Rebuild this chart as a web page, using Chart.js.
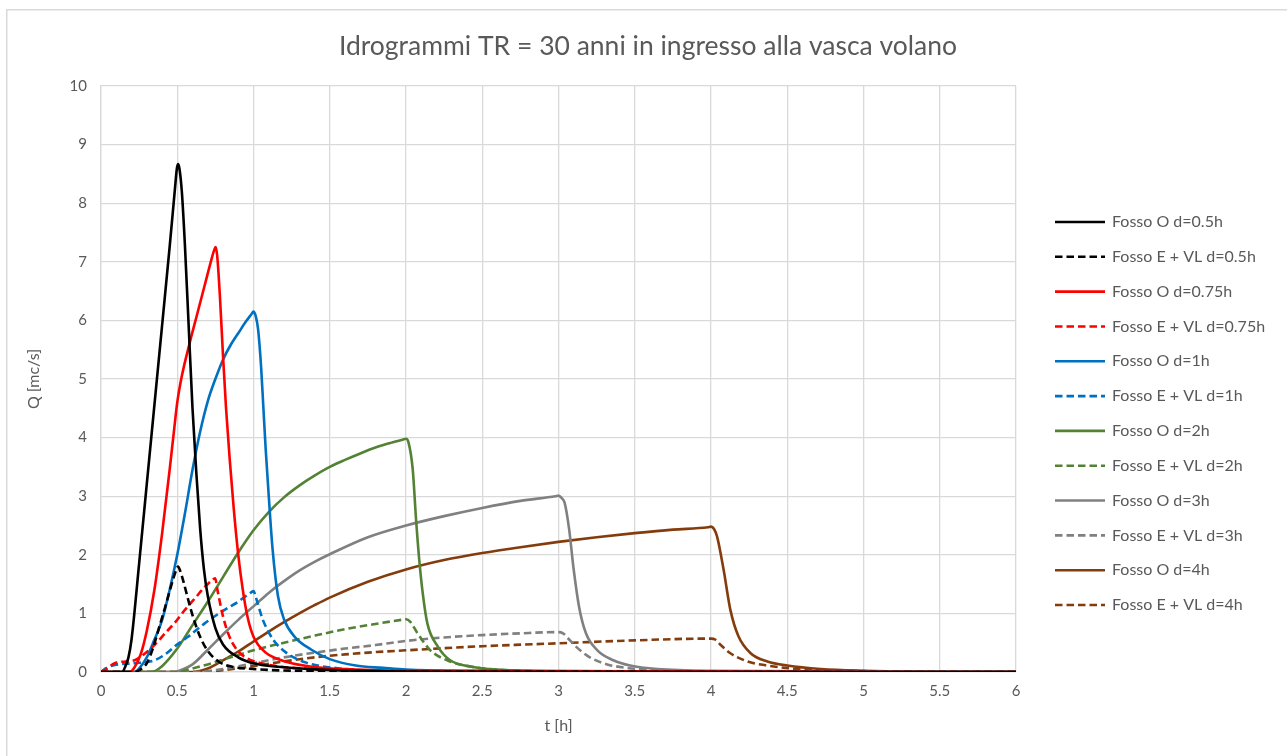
<!DOCTYPE html>
<html>
<head>
<meta charset="utf-8">
<script src="https://cdn.jsdelivr.net/npm/chart.js@4.4.1/dist/chart.umd.min.js"></script>
<style>
  body { margin: 0; background: #fff; }
  #wrap { width: 1287px; height: 756px; }
</style>
</head>
<body>
<div id="wrap"><canvas id="c" width="1287" height="756"></canvas></div>
<script>
// tempi [h] e portate [mc/s]
var tO05 = [0, 0.14, 0.16, 0.18, 0.2, 0.25, 0.3, 0.35, 0.4, 0.45, 0.485, 0.498, 0.506, 0.515, 0.53, 0.55, 0.575, 0.6, 0.625, 0.65, 0.675, 0.7, 0.75, 0.8, 0.9, 1.0, 1.2, 1.4, 1.7, 2.2, 6];
var qO05 = [0, 0, 0.1, 0.25, 0.55, 1.85, 3.2, 4.55, 5.9, 7.25, 8.25, 8.6, 8.67, 8.58, 8.2, 7.3, 5.9, 4.5, 3.4, 2.45, 1.75, 1.3, 0.75, 0.47, 0.25, 0.15, 0.08, 0.045, 0.02, 0.005, 0];

var tE05 = [0, 0.22, 0.25, 0.3, 0.34, 0.38, 0.42, 0.46, 0.49, 0.505, 0.52, 0.54, 0.57, 0.6, 0.65, 0.7, 0.77, 0.86, 1.0, 1.3, 2, 6];
var qE05 = [0, 0, 0.03, 0.15, 0.4, 0.75, 1.1, 1.47, 1.72, 1.8, 1.72, 1.55, 1.25, 0.97, 0.6, 0.36, 0.18, 0.09, 0.05, 0.02, 0.005, 0];

var tO075 = [0, 0.19, 0.22, 0.26, 0.3, 0.35, 0.4, 0.45, 0.48, 0.5, 0.53, 0.58, 0.63, 0.68, 0.72, 0.742, 0.752, 0.762, 0.78, 0.8, 0.82, 0.845, 0.87, 0.9, 0.93, 0.96, 1.0, 1.08, 1.15, 1.25, 1.45, 1.65, 2, 6];
var qO075 = [0, 0, 0.08, 0.3, 0.7, 1.4, 2.35, 3.45, 4.15, 4.6, 5.05, 5.6, 6.1, 6.6, 7.0, 7.2, 7.25, 7.1, 6.4, 5.4, 4.5, 3.6, 2.8, 2.0, 1.4, 0.95, 0.6, 0.33, 0.23, 0.15, 0.07, 0.045, 0.02, 0];

var tE075 = [0, 0.03, 0.09, 0.16, 0.22, 0.29, 0.35, 0.42, 0.49, 0.55, 0.62, 0.68, 0.73, 0.748, 0.765, 0.8, 0.835, 0.88, 0.94, 1.05, 1.18, 1.5, 2, 6];
var qE075 = [0, 0.04, 0.15, 0.18, 0.2, 0.32, 0.46, 0.66, 0.86, 1.06, 1.27, 1.45, 1.57, 1.6, 1.38, 0.95, 0.65, 0.42, 0.26, 0.15, 0.09, 0.04, 0.01, 0];

var tO1 = [0, 0.22, 0.25, 0.3, 0.35, 0.4, 0.45, 0.5, 0.55, 0.6, 0.65, 0.7, 0.75, 0.8, 0.85, 0.9, 0.95, 0.985, 1.0, 1.015, 1.03, 1.05, 1.065, 1.08, 1.1, 1.125, 1.16, 1.2, 1.27, 1.38, 1.5, 1.67, 1.85, 2.0, 2.3, 6];
var qO1 = [0, 0, 0.06, 0.25, 0.55, 0.88, 1.4, 2.0, 2.7, 3.45, 4.1, 4.62, 5.0, 5.33, 5.58, 5.78, 5.98, 6.1, 6.15, 6.07, 5.85, 5.2, 4.5, 3.8, 3.0, 2.1, 1.3, 0.9, 0.6, 0.38, 0.22, 0.11, 0.07, 0.04, 0.02, 0];

var tE1 = [0, 0.03, 0.09, 0.22, 0.35, 0.42, 0.49, 0.57, 0.68, 0.81, 0.9, 0.985, 1.0, 1.017, 1.06, 1.127, 1.214, 1.346, 1.565, 1.9, 6];
var qE1 = [0, 0.06, 0.12, 0.15, 0.2, 0.3, 0.45, 0.6, 0.83, 1.06, 1.2, 1.36, 1.38, 1.26, 0.9, 0.56, 0.33, 0.16, 0.06, 0.02, 0];

var tO2 = [0, 0.33, 0.4, 0.5, 0.6, 0.7, 0.8, 0.9, 1.0, 1.1, 1.2, 1.3, 1.4, 1.5, 1.6, 1.7, 1.8, 1.9, 1.985, 2.0, 2.015, 2.044, 2.066, 2.087, 2.11, 2.14, 2.21, 2.29, 2.43, 2.6, 3.0, 6];
var qO2 = [0, 0, 0.1, 0.4, 0.8, 1.2, 1.62, 2.04, 2.42, 2.73, 2.98, 3.18, 3.35, 3.5, 3.62, 3.73, 3.83, 3.91, 3.97, 3.98, 3.93, 3.46, 2.6, 1.91, 1.34, 0.83, 0.43, 0.2, 0.09, 0.04, 0.01, 0];

var tE2 = [0, 0.5, 0.6, 0.7, 0.8, 0.9, 1.0, 1.2, 1.4, 1.6, 1.8, 1.985, 2.0, 2.03, 2.076, 2.16, 2.27, 2.43, 2.6, 3, 6];
var qE2 = [0, 0, 0.06, 0.13, 0.21, 0.29, 0.37, 0.5, 0.62, 0.73, 0.82, 0.895, 0.9, 0.85, 0.66, 0.37, 0.2, 0.09, 0.04, 0.01, 0];

var tO3 = [0, 0.48, 0.5, 0.6, 0.7, 0.8, 0.9, 1.0, 1.1, 1.2, 1.3, 1.4, 1.5, 1.75, 2.0, 2.25, 2.5, 2.75, 2.98, 3.0, 3.02, 3.04, 3.07, 3.1, 3.135, 3.18, 3.255, 3.36, 3.47, 3.65, 4.0, 6];
var qO3 = [0, 0, 0.01, 0.13, 0.38, 0.64, 0.89, 1.12, 1.35, 1.55, 1.73, 1.88, 2.01, 2.3, 2.5, 2.66, 2.8, 2.92, 3.0, 3.01, 2.97, 2.89, 2.43, 1.74, 1.11, 0.66, 0.37, 0.2, 0.11, 0.05, 0.02, 0];

var tE3 = [0, 0.6, 0.8, 1.0, 1.2, 1.4, 1.6, 1.8, 2.0, 2.25, 2.5, 2.75, 2.98, 3.0, 3.03, 3.06, 3.12, 3.2, 3.32, 3.45, 3.65, 4, 6];
var qE3 = [0, 0, 0.05, 0.15, 0.25, 0.33, 0.4, 0.46, 0.53, 0.59, 0.63, 0.66, 0.68, 0.68, 0.66, 0.58, 0.42, 0.26, 0.13, 0.07, 0.03, 0.01, 0];

var tO4 = [0, 0.6, 0.7, 0.8, 0.9, 1.0, 1.1, 1.2, 1.3, 1.4, 1.5, 1.75, 2.0, 2.25, 2.5, 2.75, 3.0, 3.25, 3.5, 3.75, 3.98, 4.0, 4.02, 4.04, 4.083, 4.127, 4.18, 4.26, 4.37, 4.5, 4.72, 5.0, 5.33, 6];
var qO4 = [0, 0, 0.06, 0.2, 0.35, 0.52, 0.69, 0.85, 1.0, 1.14, 1.27, 1.54, 1.75, 1.91, 2.03, 2.13, 2.22, 2.3, 2.37, 2.43, 2.47, 2.48, 2.44, 2.31, 1.74, 1.06, 0.61, 0.32, 0.18, 0.11, 0.05, 0.02, 0.005, 0];

var tE4 = [0, 0.62, 0.8, 1.0, 1.2, 1.4, 1.6, 1.8, 2.0, 2.5, 3.0, 3.5, 3.98, 4.0, 4.03, 4.06, 4.127, 4.24, 4.37, 4.57, 4.9, 6];
var qE4 = [0, 0, 0.03, 0.1, 0.18, 0.25, 0.3, 0.34, 0.37, 0.44, 0.49, 0.54, 0.57, 0.57, 0.55, 0.47, 0.32, 0.18, 0.11, 0.05, 0.02, 0];

var nomi = [
  "Fosso O d=0.5h", "Fosso E + VL d=0.5h",
  "Fosso O d=0.75h", "Fosso E + VL d=0.75h",
  "Fosso O d=1h", "Fosso E + VL d=1h",
  "Fosso O d=2h", "Fosso E + VL d=2h",
  "Fosso O d=3h", "Fosso E + VL d=3h",
  "Fosso O d=4h", "Fosso E + VL d=4h"
];
var tempi = [tO05, tE05, tO075, tE075, tO1, tE1, tO2, tE2, tO3, tE3, tO4, tE4];
var portate = [qO05, qE05, qO075, qE075, qO1, qE1, qO2, qE2, qO3, qE3, qO4, qE4];
var colori = ["#000000", "#FF0000", "#0070C0", "#548235", "#808080", "#843C0C"];

var titolo = "Idrogrammi TR = 30 anni in ingresso alla vasca volano";
var grigio = "#595959";
var font = "Lato, 'Open Sans', sans-serif";

var datasets = nomi.map(function(n, i) {
  var c = colori[Math.floor(i / 2)];
  return {
    label: n,
    data: tempi[i].map(function(t, k) { return { x: t, y: portate[i][k] }; }),
    borderColor: c,
    backgroundColor: c,
    borderWidth: 2.6,
    borderDash: i % 2 ? [7.5, 4] : [],
    pointRadius: 0,
    fill: false,
    cubicInterpolationMode: 'monotone'
  };
});

// cornice, titolo e legenda disegnati a mano
var decorazioni = {
  id: 'decorazioni',
  beforeDraw: function(chart) {
    var ctx = chart.ctx;
    ctx.save();
    ctx.fillStyle = '#fff';
    ctx.fillRect(0, 0, chart.width, chart.height);
    ctx.strokeStyle = '#d9d9d9';
    ctx.lineWidth = 1.5;
    ctx.strokeRect(6.75, 9.75, 1400, 900);
    ctx.fillStyle = grigio;
    ctx.font = "26.5px " + font;
    ctx.textAlign = 'center';
    ctx.textBaseline = 'middle';
    ctx.fillText(titolo, 648, 46);
    ctx.restore();
  },
  afterDraw: function(chart) {
    var ctx = chart.ctx;
    ctx.save();
    chart.data.datasets.forEach(function(ds, i) {
      var y = 222 + i * 34.82;
      ctx.beginPath();
      ctx.strokeStyle = ds.borderColor;
      ctx.lineWidth = ds.borderWidth;
      ctx.setLineDash(ds.borderDash);
      ctx.moveTo(1055, y);
      ctx.lineTo(1105, y);
      ctx.stroke();
      ctx.setLineDash([]);
      ctx.fillStyle = grigio;
      ctx.font = "16px " + font;
      ctx.textBaseline = 'middle';
      ctx.fillText(ds.label, 1112, y);
    });
    ctx.restore();
  }
};

new Chart(document.getElementById('c'), {
  type: 'line',
  data: { datasets: datasets },
  plugins: [decorazioni],
  options: {
    responsive: false,
    animation: false,
    layout: { padding: { top: 86, left: 20, right: 271, bottom: 14 } },
    plugins: {
      legend: { display: false },
      tooltip: { enabled: false },
      title: { display: false }
    },
    scales: {
      x: {
        type: 'linear',
        min: 0, max: 6,
        afterFit: function(s) { s.height = 70; },
        ticks: {
          stepSize: 0.5, color: grigio, font: { family: font, size: 15 }, padding: 10,
          callback: function(v) { return String(v); }
        },
        grid: { color: '#d9d9d9', lineWidth: 1.3, drawTicks: false },
        border: { color: '#d9d9d9', width: 1.3 },
        title: { display: true, text: 't [h]', color: grigio, font: { family: font, size: 16 }, padding: { top: 0, bottom: 7 } }
      },
      y: {
        min: 0, max: 10,
        afterFit: function(s) { s.width = 81; },
        ticks: { stepSize: 1, color: grigio, font: { family: font, size: 15 }, padding: 14 },
        grid: { color: '#d9d9d9', lineWidth: 1.3, drawTicks: false },
        border: { color: '#d9d9d9', width: 1.3 },
        title: { display: true, text: 'Q [mc/s]', color: grigio, font: { family: font, size: 16 }, padding: { top: 4, bottom: 0 } }
      }
    }
  }
});
</script>
</body>
</html>
